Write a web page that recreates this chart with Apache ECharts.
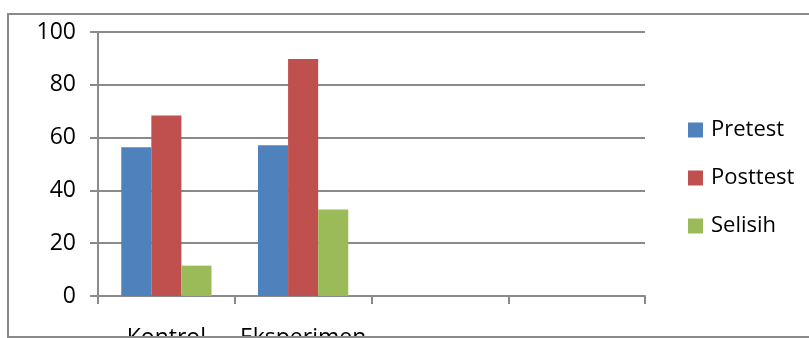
<!DOCTYPE html>
<html>
<head>
<meta charset="utf-8">
<script src="https://cdn.jsdelivr.net/npm/echarts@6/dist/echarts.min.js"></script>
<style>
  html, body { margin: 0; padding: 0; background: #fff; }
  #chart { width: 809px; height: 338px; }
</style>
</head>
<body>
<div id="chart"></div>
<script>
// Group labels (the last two slots are empty)
const categories = ['Kontrol', 'Eksperimen', '', ''];
// Scores per group
const pretest = [56.3, 57.1];
const posttest = [68.4, 89.8];
const selisih = [11.5, 32.8];
// Value axis range
const yMin = 0, yMax = 100, yStep = 20;

const fontFamily = '"Open Sans", "Liberation Sans", sans-serif';
const gray = '#8a8a8a';

const chart = echarts.init(document.getElementById('chart'), null, { renderer: 'canvas' });
chart.setOption({
  animation: false,
  backgroundColor: '#fff',
  color: ['#4F81BD', '#C0504D', '#9BBB59'],
  grid: { left: 98, right: 164, top: 32, bottom: 42, containLabel: false, outerBoundsMode: 'none' },
  graphic: [{
    type: 'rect',
    shape: { x: 8, y: 14, width: 820, height: 323 },
    style: { fill: 'none', stroke: gray, lineWidth: 2 },
    silent: true,
    z: 100
  }],
  legend: {
    orient: 'vertical',
    left: 688,
    top: 119,
    padding: 0,
    itemWidth: 15,
    itemHeight: 15,
    itemGap: 26,
    icon: 'rect',
    textStyle: { fontFamily, fontSize: 22, color: '#000', lineHeight: 22, padding: [0, 0, 0, 3] },
    data: ['Pretest', 'Posttest', 'Selisih']
  },
  xAxis: {
    type: 'category',
    data: categories,
    axisLine: { lineStyle: { color: gray, width: 2 } },
    axisTick: { show: true, length: 8, alignWithLabel: false, lineStyle: { color: gray, width: 2 } },
    axisLabel: { fontFamily, fontSize: 23, color: '#000', margin: 31, interval: 0 }
  },
  yAxis: {
    type: 'value',
    min: yMin, max: yMax, interval: yStep,
    axisLine: { show: true, lineStyle: { color: gray, width: 2 } },
    axisTick: { show: true, length: 8, lineStyle: { color: gray, width: 2 } },
    axisLabel: { fontFamily, fontSize: 23, color: '#000', margin: 22 },
    splitLine: { lineStyle: { color: gray, width: 2 } }
  },
  series: [
    { name: 'Pretest', type: 'bar', data: pretest, barGap: '0%', barCategoryGap: '34%' },
    { name: 'Posttest', type: 'bar', data: posttest, barGap: '0%', barCategoryGap: '34%' },
    { name: 'Selisih', type: 'bar', data: selisih, barGap: '0%', barCategoryGap: '34%' }
  ]
});
</script>
</body>
</html>
